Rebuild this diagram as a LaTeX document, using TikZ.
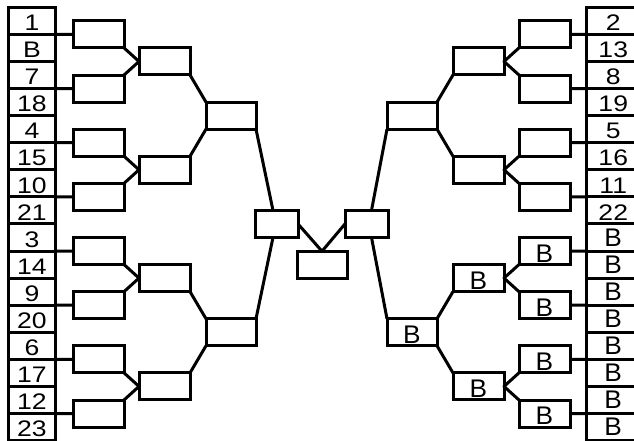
\documentclass[tikz,border=0pt]{standalone}
\usepackage{fontspec}
\setmainfont{Liberation Sans}[FakeStretch=1.18]
\newfontfamily\bfam{Liberation Sans}[FakeStretch=1.03]
\newcommand{\numtxt}{\fontsize{22.5pt}{26pt}\selectfont}
\newcommand{\btxt}{\bfam\fontsize{25.5pt}{28pt}\selectfont}
\begin{document}
\begin{tikzpicture}[x=1pt,y=-1pt,
  ln/.style={line width=3pt,line join=round},
  cell/.style={draw,line width=3pt,inner sep=0pt,outer sep=0pt,minimum height=27.08pt,text height=19.5pt,text depth=0pt,font=\numtxt},
  bcell/.style={cell,text height=17.6pt,font=\btxt},
  mbox/.style={draw,line width=3pt,inner sep=0pt,outer sep=0pt,minimum height=27pt,text height=22pt,text depth=0pt,font=\btxt},
]
\useasboundingbox (0,0) rectangle (634,441);
% seed cells
\foreach \t [count=\k] in {1,B,7,18,4,15,10,21,3,14,9,20,6,17,12,23}
  \node[cell,minimum width=47pt] (lcell\k) at (32,{7.3+27.08*(\k-0.5)}) {\t};
\foreach \t [count=\k] in {2,13,8,19,5,16,11,22}
  \node[cell,minimum width=53.5pt] (rcell\k) at (613.25,{7.3+27.08*(\k-0.5)}) {\t};
\foreach \k in {9,...,16}
  \node[bcell,minimum width=53.5pt] (rcell\k) at (613.25,{7.3+27.08*(\k-0.5)}) {B};
% left boxes
\foreach \i in {1,...,8}
  \node[mbox,minimum width=51pt] (L1-\i) at (98.5,{7.3+27.08*(2*\i-1)}) {};
\foreach \i in {1,...,4}
  \node[mbox,minimum width=51pt] (L2-\i) at (164.5,{7.3+27.08*(4*\i-2)}) {};
\foreach \i in {1,2}
  \node[mbox,minimum width=50pt] (L3-\i) at (231,{7.3+27.08*(8*\i-4)}) {};
\node[mbox,minimum width=43pt] (LS) at (276.5,{7.3+27.08*8}) {};
% final
\node[mbox,minimum width=50pt,minimum height=27.5pt] (F) at (322,265) {};
% right boxes
\foreach \i in {1,...,4}
  \node[mbox,minimum width=51pt] (R1-\i) at (544.5,{7.3+27.08*(2*\i-1)}) {};
\foreach \i in {5,...,8}
  \node[mbox,minimum width=51pt] (R1-\i) at (544.5,{7.3+27.08*(2*\i-1)}) {B};
\foreach \i in {1,2}
  \node[mbox,minimum width=51pt] (R2-\i) at (478.5,{7.3+27.08*(4*\i-2)}) {};
\foreach \i in {3,4}
  \node[mbox,minimum width=51pt] (R2-\i) at (478.5,{7.3+27.08*(4*\i-2)}) {B};
\node[mbox,minimum width=50pt] (R3-1) at (412,{7.3+27.08*4}) {};
\node[mbox,minimum width=50pt] (R3-2) at (412,{7.3+27.08*12}) {B};
\node[mbox,minimum width=43pt] (RS) at (366.5,{7.3+27.08*8}) {};
% connectors: seeds to first round
\foreach \i [evaluate=\i as \k using {int(2*\i-1)}] in {1,...,8} {
  \draw[ln] (lcell\k.south east) -- (L1-\i.west);
  \draw[ln] (R1-\i.east) -- (rcell\k.south west);
}
% first to second round
\foreach \j [evaluate=\j as \a using {int(2*\j-1)}, evaluate=\j as \b using {int(2*\j)}] in {1,...,4} {
  \draw[ln] (L1-\a.south east) -- (L2-\j.west) -- (L1-\b.north east);
  \draw[ln] (R1-\a.south west) -- (R2-\j.east) -- (R1-\b.north west);
}
% second to third round
\foreach \m [evaluate=\m as \a using {int(2*\m-1)}, evaluate=\m as \b using {int(2*\m)}] in {1,2} {
  \draw[ln] (L2-\a.south east) -- (L3-\m.north west);
  \draw[ln] (L2-\b.north east) -- (L3-\m.south west);
  \draw[ln] (R2-\a.south west) -- (R3-\m.north east);
  \draw[ln] (R2-\b.north west) -- (R3-\m.south east);
}
% third round to semis
\draw[ln] (L3-1.south east) -- ([xshift=-3.5pt]LS.north);
\draw[ln] (L3-2.north east) -- ([xshift=-3.5pt]LS.south);
\draw[ln] (R3-1.south west) -- ([xshift=5pt]RS.north);
\draw[ln] (R3-2.north west) -- ([xshift=5pt]RS.south);
% semis to final
\draw[ln] (LS.east) -- (F.north) -- (RS.west);
\end{tikzpicture}
\end{document}
